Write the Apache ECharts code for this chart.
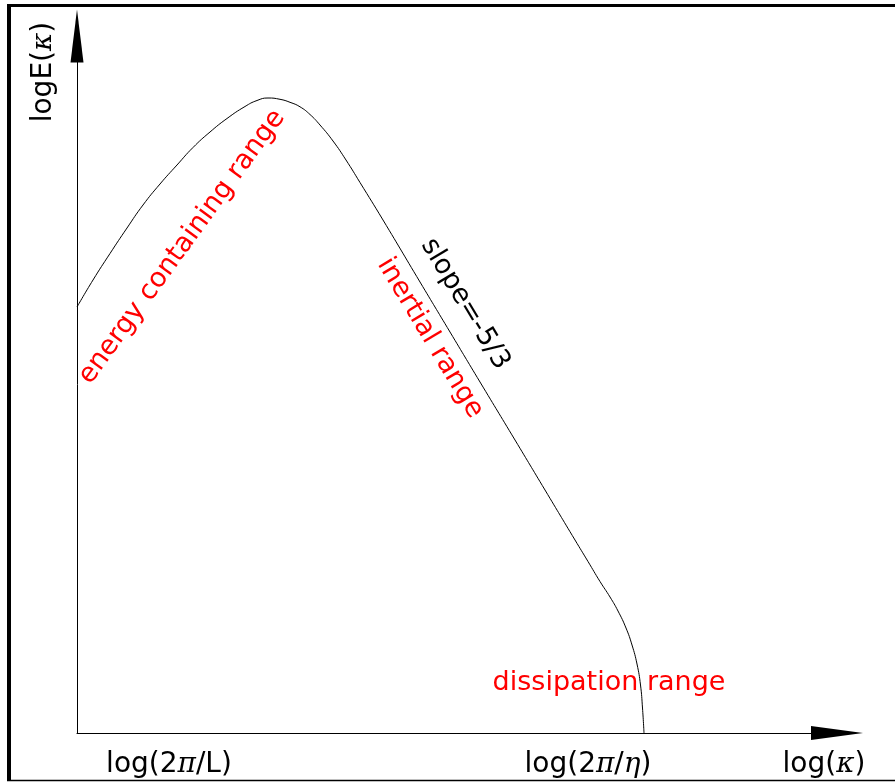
<!DOCTYPE html>
<html>
<head>
<meta charset="utf-8">
<script src="https://cdn.jsdelivr.net/npm/echarts@6/dist/echarts.min.js"></script>
<style>
html,body{margin:0;padding:0;background:#fff;}
#chart{width:895px;height:782px;}
</style>
</head>
<body>
<div id="chart"></div>
<script>
// Spectrum curve: x = position along log(kappa) axis, y = logE(kappa) (arbitrary units)
const curveX = [0, 16, 33, 50, 66, 83, 100, 116, 133, 150, 168, 180, 191, 203, 213, 223, 233, 243, 256, 269, 283, 306, 343, 373, 403, 438, 468, 498, 511, 523, 533, 541, 549, 555, 560, 563.5, 565.5, 567];
const curveY = [426, 453, 479.5, 505, 528, 549, 568, 585.5, 601, 614.5, 626.5, 632.5, 635, 633.7, 630.7, 626.2, 618.5, 608, 592, 573, 550.5, 513, 451, 401, 351, 293, 243, 193, 171.5, 151.5, 136, 122, 105, 88, 69, 48, 25, 0];

// Tick labels on the horizontal axis
const xTickValues = [92, 511, 747];
const xTickLabels = ['log(2{m|π}/L)', 'log(2{m|π}/{m|η})', 'log({m|κ})'];

const yAxisName = 'logE({m|κ})';
const rangeLabels = ['energy containing range', 'inertial range', 'dissipation range'];
const slopeLabel = 'slope=-5/3';

const points = curveX.map((x, i) => [x, curveY[i]]);

const chart = echarts.init(document.getElementById('chart'), null, {renderer: 'canvas'});
const FONT = 'DejaVu Sans';
const mathRich = {m: {fontFamily: 'DejaVu Serif', fontStyle: 'italic', fontSize: 28, color: '#000'}};

chart.setOption({
  backgroundColor: '#fff',
  animation: false,
  grid: {left: 77, right: 58, top: 36, bottom: 49, containLabel: false, outerBoundsMode: 'none'},
  xAxis: {
    type: 'value', min: 0, max: 760,
    axisLine: {show: true, onZero: false, symbol: ['none', 'triangle'], symbolSize: [14, 52], lineStyle: {color: '#000', width: 1}},
    axisTick: {show: false},
    splitLine: {show: false},
    axisLabel: {
      show: true,
      customValues: xTickValues,
      margin: 18,
      color: '#000',
      fontFamily: FONT,
      fontSize: 28,
      showMinLabel: true, showMaxLabel: true,
      formatter: function (v) {
        const i = xTickValues.indexOf(v);
        return i >= 0 ? xTickLabels[i] : '';
      },
      rich: mathRich
    }
  },
  yAxis: {
    type: 'value', min: 0, max: 697,
    axisLine: {show: true, onZero: false, symbol: ['none', 'triangle'], symbolSize: [13, 53], lineStyle: {color: '#000', width: 1}},
    axisTick: {show: false},
    splitLine: {show: false},
    axisLabel: {show: false}
  },
  series: [{
    type: 'line',
    data: points,
    showSymbol: false,
    smooth: 0.5,
    lineStyle: {color: '#000', width: 1},
    silent: true
  }],
  graphic: [
    {type: 'line', shape: {x1: 7, y1: 5.5, x2: 895, y2: 5.5}, style: {stroke: '#000', lineWidth: 3}},
    {type: 'line', shape: {x1: 9, y1: 4, x2: 9, y2: 781}, style: {stroke: '#000', lineWidth: 4}},
    {type: 'line', shape: {x1: 7, y1: 780.5, x2: 895, y2: 780.5}, style: {stroke: '#000', lineWidth: 1.5}},
    {type: 'text', x: 44, y: 72, rotation: Math.PI / 2,
      style: {text: yAxisName, font: '28px "DejaVu Sans"', fill: '#000', align: 'center', verticalAlign: 'middle', rich: mathRich}},
    {type: 'text', x: 182, y: 247, rotation: 54 * Math.PI / 180,
      style: {text: rangeLabels[0], font: '27px "DejaVu Sans"', fill: '#ff0000', align: 'center', verticalAlign: 'middle'}},
    {type: 'text', x: 430, y: 338, rotation: -59 * Math.PI / 180,
      style: {text: rangeLabels[1], font: '27px "DejaVu Sans"', fill: '#ff0000', align: 'center', verticalAlign: 'middle'}},
    {type: 'text', x: 465, y: 304, rotation: -59 * Math.PI / 180,
      style: {text: slopeLabel, font: '27px "DejaVu Sans"', fill: '#000', align: 'center', verticalAlign: 'middle'}},
    {type: 'text', x: 609, y: 683,
      style: {text: rangeLabels[2], font: '27px "DejaVu Sans"', fill: '#ff0000', align: 'center', verticalAlign: 'middle'}}
  ]
});
</script>
</body>
</html>
